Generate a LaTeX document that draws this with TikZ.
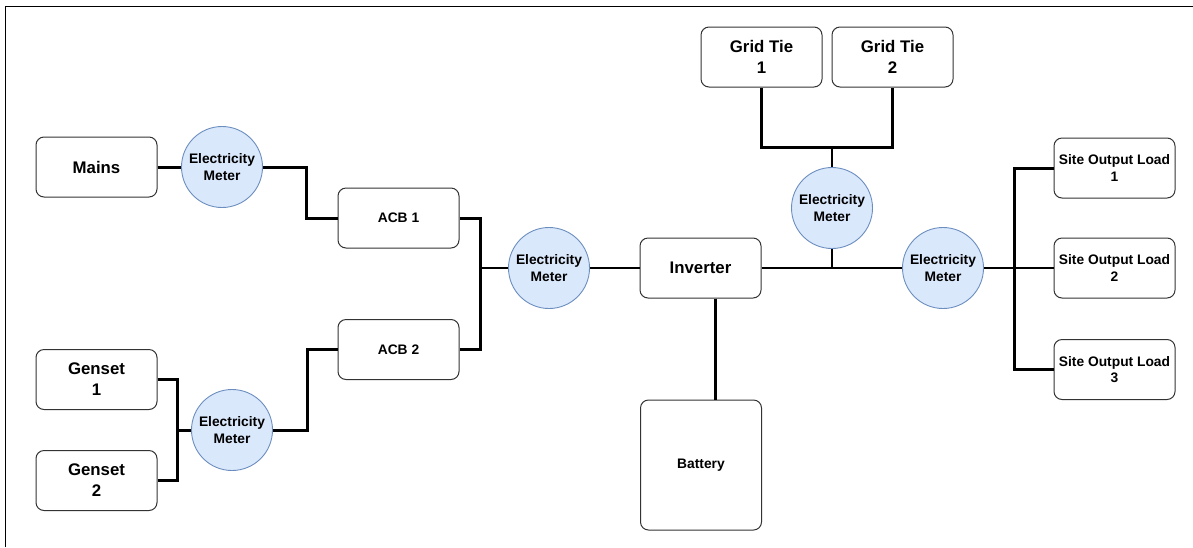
\documentclass[tikz,border=0pt]{standalone}
\usepackage{fontspec}
\setmainfont{Liberation Sans}
\definecolor{meterfill}{HTML}{DAE8FC}
\definecolor{meterline}{HTML}{6C8EBF}
\definecolor{boxline}{HTML}{333333}
\begin{document}
\begin{tikzpicture}[x=1pt,y=-1pt,
  box/.style={draw=boxline, line width=1pt, rounded corners=8pt, fill=white,
    minimum width=121pt, minimum height=60pt, inner sep=0pt, align=center,
    font=\bfseries\fontsize{13.8}{16.5}\selectfont},
  big/.style={font=\bfseries\fontsize{16.8}{21}\selectfont},
  meter/.style={circle, draw=meterline, fill=meterfill, line width=0.9pt,
    minimum size=81pt, inner sep=0pt, align=center,
    font=\bfseries\fontsize{13.8}{16.5}\selectfont},
  wire/.style={line width=3pt},
  thinwire/.style={line width=2pt}]
\useasboundingbox (0,0) rectangle (1193,547);
\draw[line width=1pt] (5,547) -- (5,6) -- (1193,6);

% nodes
\node[box,big] (mains) at (96.5,167) {Mains};
\node[meter] (m1) at (222,167) {Electricity\\Meter};
\node[box] (acb1) at (398.5,218) {ACB 1};
\node[box] (acb2) at (398.5,349.5) {ACB 2};
\node[box,big] (gen1) at (96.5,379.5) {Genset\\1};
\node[box,big] (gen2) at (96.5,480.5) {Genset\\2};
\node[meter] (m2) at (232,430) {Electricity\\Meter};
\node[meter] (mc) at (549,268) {Electricity\\Meter};
\node[box,big] (inv) at (700.5,268) {Inverter};
\node[box,minimum height=130pt] (bat) at (701,465) {Battery};
\node[box,big] (gt1) at (761.5,57) {Grid Tie\\1};
\node[box,big] (gt2) at (892.5,57) {Grid Tie\\2};
\node[meter] (mg) at (832,208) {Electricity\\Meter};
\node[meter] (mo) at (943,268) {Electricity\\Meter};
\node[box] (l1) at (1114.5,168) {Site Output Load\\1};
\node[box] (l2) at (1114.5,268) {Site Output Load\\2};
\node[box] (l3) at (1114.5,369.5) {Site Output Load\\3};

% junction coordinates
\coordinate (k1) at (306,192);
\coordinate (k2) at (480,300);
\coordinate (k3) at (307,400);
\coordinate (k4) at (177,430);
\coordinate (k5) at (832,147);
\coordinate (k6) at (1014,268);

% connectors
\draw[wire] (mains.east) -- (m1.west);
\draw[wire] (m1.east) -| (k1) |- (acb1.west);
\draw[wire] (acb1.east) -| (k2) |- (acb2.east);
\draw[thinwire] (mc.west) -- (mc.west -| k2);
\draw[wire] (m2.east) -| (k3) |- (acb2.west);
\draw[wire] (gen1.east) -| (k4) |- (gen2.east);
\draw[wire] (m2.west) -- (m2.west -| k4);
\draw[thinwire] (mc.east) -- (inv.west);
\draw[thinwire] (inv.east) -- (mo.west);
\draw[wire] ([xshift=15pt]inv.south) -- ([xshift=15pt]inv.south |- bat.north);
\draw[wire] (gt1.south) |- (k5) -| (gt2.south);
\draw[thinwire] (k5) -- (mg.north);
\draw[thinwire] (mg.south) -- (mg.south |- inv.east);
\draw[thinwire] (mo.east) -- (l2.west);
\draw[wire] (l1.west) -| (k6) |- (l3.west);
\end{tikzpicture}
\end{document}
